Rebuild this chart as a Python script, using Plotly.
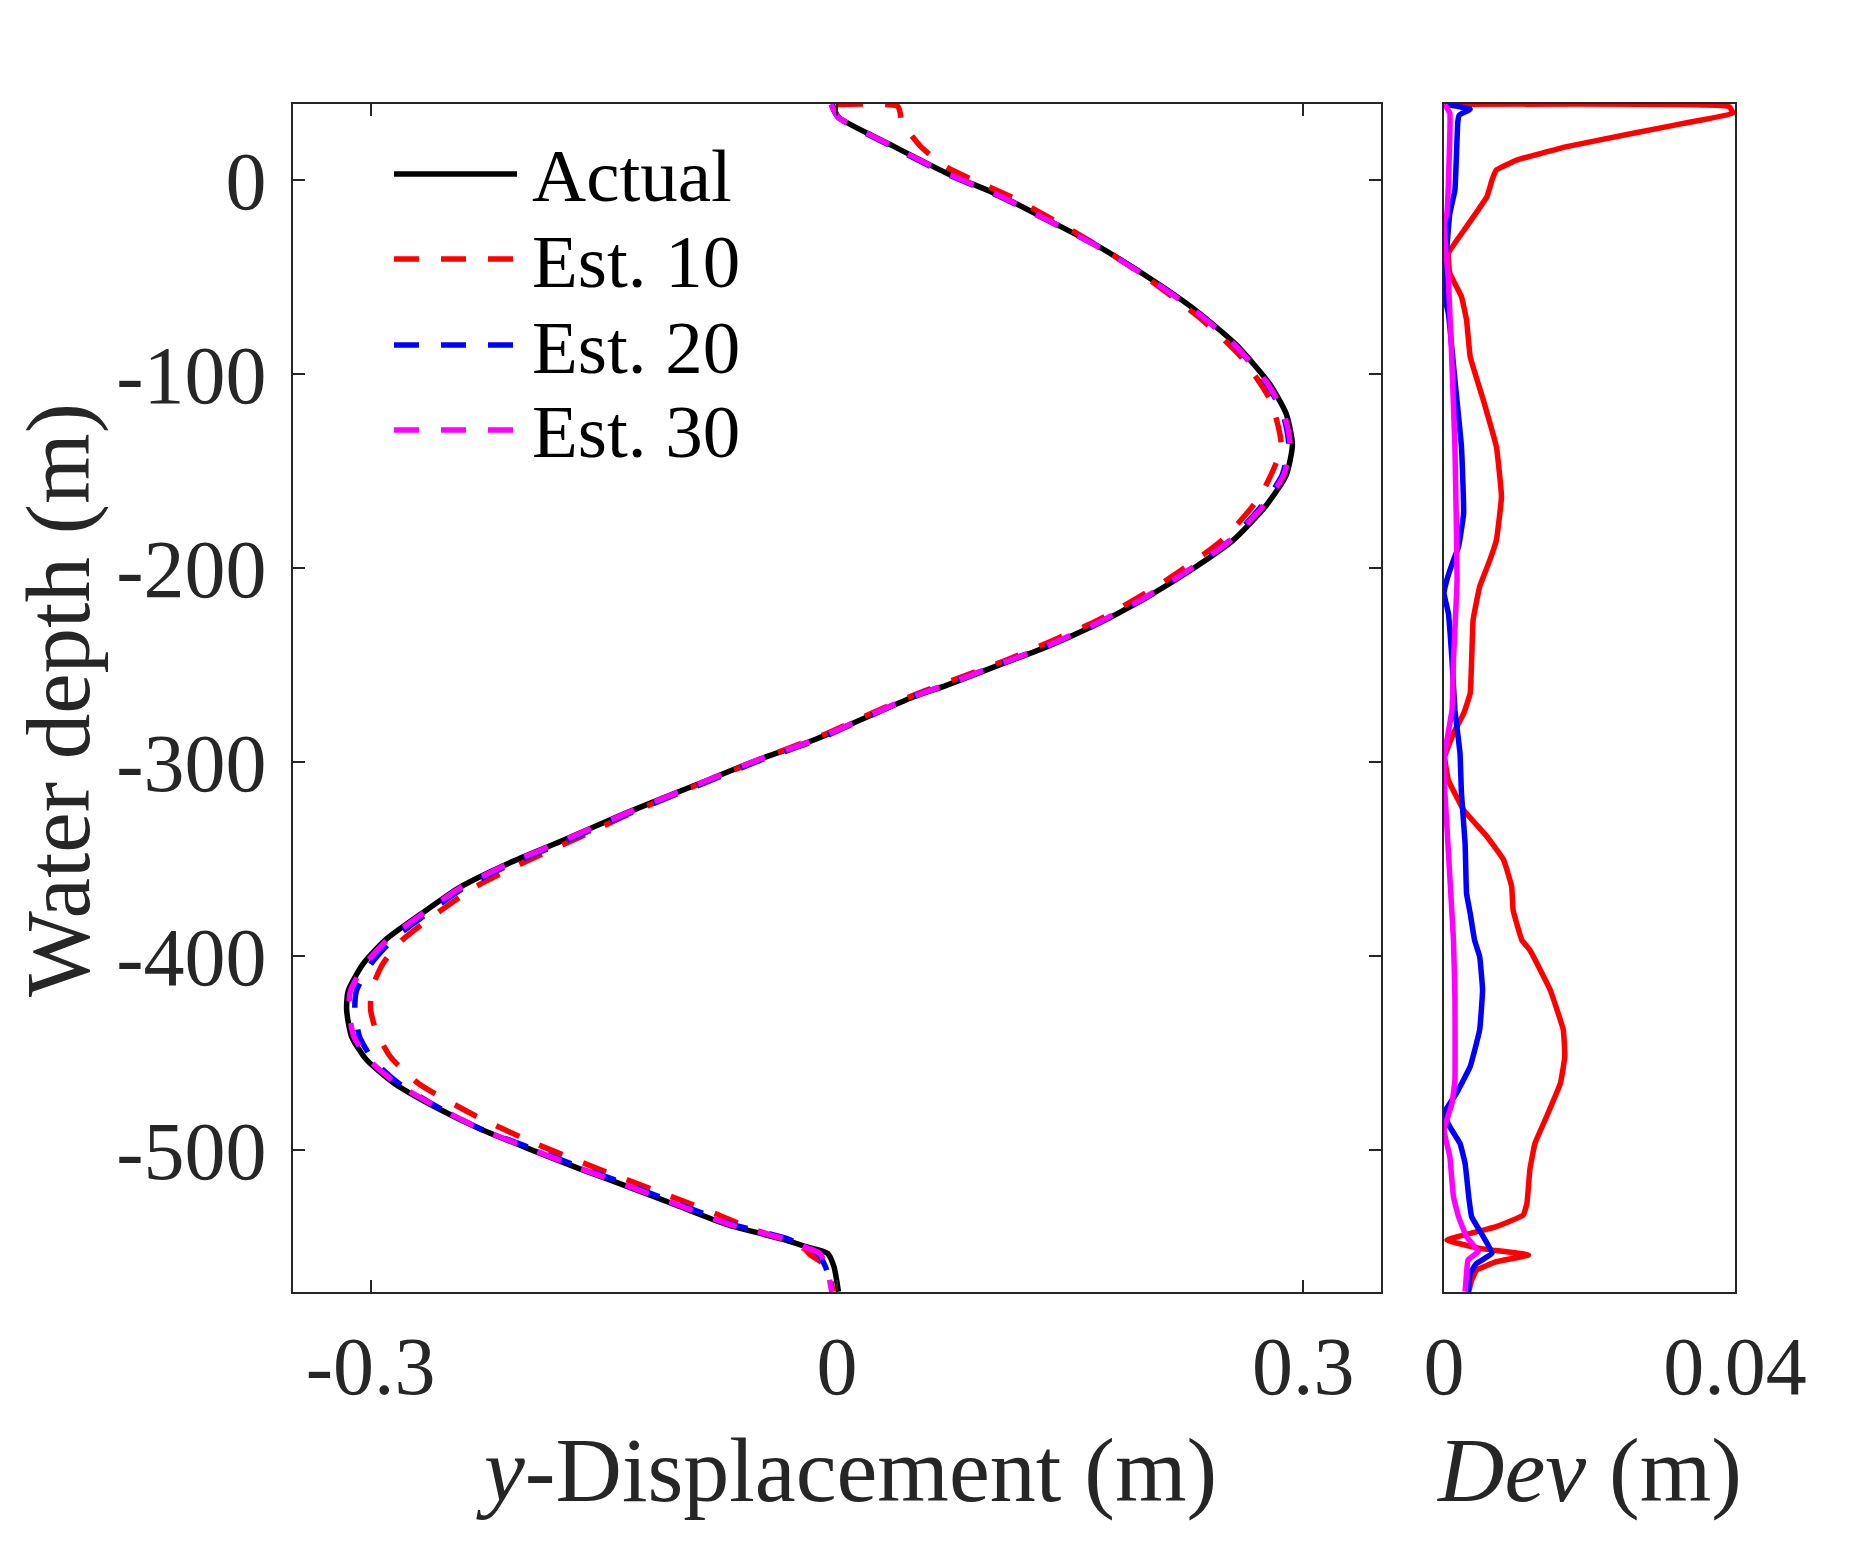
import plotly.graph_objects as go

# main panel: displacement profiles along the riser (depth in m, displacement in m)
depth_main = [39, 32.4, 17.6, 3.8, -8.1, -19.9, -33.7, -49.5, -67.3, -85.0,
              -104.7, -120.5, -136.3, -152.1, -167.9, -185.6, -201.4, -215.2, -229.0, -240.9,
              -250.7, -260.6, -266.5, -288.8, -298.6, -312.4, -326.2, -341.0, -351.9, -364.7,
              -378.5, -391.3, -404.2, -418.0, -427.8, -441.6, -453.5, -465.3, -477.2, -489.0,
              -498.9, -509.7, -518.6, -528.5, -538.3, -546.0, -549.8, -553.3, -560.0, -565.3,
              -573.0]
actual_x = [-0.003, 0.001, 0.036, 0.070, 0.105, 0.134, 0.167, 0.199, 0.231, 0.257,
            0.278, 0.289, 0.293, 0.289, 0.276, 0.255, 0.227, 0.199, 0.167, 0.134,
            0.102, 0.070, 0.049, -0.0154, -0.050, -0.0926, -0.1355, -0.178, -0.2105, -0.243,
            -0.268, -0.290, -0.305, -0.3145, -0.3155, -0.3123, -0.3027, -0.2855, -0.260, -0.2298,
            -0.1998, -0.1655, -0.1355, -0.1033, -0.0712, -0.035, -0.020, -0.006, -0.002, -0.0006,
            0.0009]
est20_x = [-0.0037, 0.0006, 0.0345, 0.0685, 0.1037, 0.1332, 0.1666, 0.1990, 0.2304, 0.2558,
           0.2762, 0.2869, 0.2906, 0.2864, 0.2733, 0.2529, 0.2262, 0.1990, 0.1666, 0.1329,
           0.1009, 0.0688, 0.0478, -0.0134, -0.0478, -0.0902, -0.1330, -0.1752, -0.2076, -0.2399,
           -0.2645, -0.2855, -0.3000, -0.3092, -0.3102, -0.3072, -0.2985, -0.2825, -0.2585, -0.2297,
           -0.1972, -0.1625, -0.1322, -0.0998, -0.0674, -0.0310, -0.0220, -0.0125, -0.0075, -0.0055,
           -0.0034]
est30_x = [-0.0037, 0.0008, 0.0355, 0.0695, 0.1045, 0.1336, 0.1665, 0.1984, 0.2302, 0.2560,
           0.2768, 0.2876, 0.2915, 0.2874, 0.2744, 0.2534, 0.2255, 0.1980, 0.1659, 0.1327,
           0.1008, 0.0688, 0.0478, -0.0150, -0.0500, -0.0922, -0.1350, -0.1775, -0.2099, -0.2422,
           -0.2671, -0.2888, -0.3036, -0.3130, -0.3140, -0.3108, -0.3012, -0.2840, -0.2588, -0.2298,
           -0.1990, -0.1645, -0.1342, -0.1018, -0.0692, -0.0330, -0.0215, -0.0110, -0.0070, -0.0052,
           -0.0034]

depth_est10 = [39, 38.0, 34.4, 29.2, 24.1, 17.2, 10.3, 5.2, 0, -8.6,
               -24, -37.8, -48.1, -60.1, -72.2, -91.1, -113.4, -137.5, -163.2, -185.6,
               -206.2, -226.8, -247.4, -264.6, -275, -285.2, -297.2, -309.3, -324.7, -338.4,
               -350.5, -364.2, -376.3, -391.8, -404, -417.5, -428, -438.1, -451.9, -465.6,
               -482.8, -496.6, -510.3, -527.5, -533.5, -539.5, -546.4, -550.7, -554.1, -557.6,
               -561.9, -567, -573]
est10_x = [0.0006, 0.039, 0.0407, 0.0415, 0.0467, 0.0539, 0.064, 0.0738, 0.0878, 0.1119,
           0.1469, 0.1759, 0.1954, 0.2157, 0.2351, 0.2599, 0.2787, 0.2858, 0.2720, 0.2478,
           0.2121, 0.1681, 0.1090, 0.0522, 0.0218, -0.0063, -0.0450, -0.0824, -0.1281, -0.1646,
           -0.1981, -0.2324, -0.2545, -0.2797, -0.2922, -0.2995, -0.3000, -0.2967, -0.2874, -0.2695,
           -0.2316, -0.1943, -0.1517, -0.0951, -0.0760, -0.0584, -0.0336, -0.0213, -0.0171, -0.0106,
           -0.0060, -0.0041, -0.0025]

# right panel: deviation of each estimate from the actual profile
dev10_depth = [39, 37.8, 34.4, 29.2, 24.1, 17.2, 10.3, 5.2, 0, -8.6,
               -24, -37.8, -48.1, -60.1, -72.2, -91.1, -113.4, -137.5, -163.2, -185.6,
               -195.9, -209.6, -226.8, -247.4, -264.6, -275, -285.2, -297.2, -309.3, -324.7,
               -338.4, -350.5, -364.2, -376.3, -391.8, -396.9, -417.5, -438.1, -451.9, -465.6,
               -482.8, -496.6, -510.3, -527.5, -533.5, -539.5, -546.4, -550.7, -554.1, -557.6,
               -561.9, -567, -573]
dev10 = [0.0001, 0.0392, 0.0397, 0.0329, 0.026, 0.0169, 0.010, 0.0072, 0.0066, 0.0059,
         0.0031, 0.0006, 0.0008, 0.0024, 0.0031, 0.0036, 0.0054, 0.0072, 0.0079, 0.0072,
         0.0063, 0.0049, 0.0040, 0.0038, 0.0036, 0.0027, 0.0013, 0.0001, 0.0006, 0.0027,
         0.0059, 0.0082, 0.0093, 0.0095, 0.0107, 0.0118, 0.0146, 0.0164, 0.0166, 0.0160,
         0.0141, 0.0125, 0.0118, 0.0114, 0.0109, 0.0072, 0.0004, 0.0049, 0.0116, 0.0072,
         0.0045, 0.0038, 0.0034]

dev20_depth = [39, 36.5, 33.5, 30, -5.2, -17.2, -58.4, -68.7, -103, -137.5,
               -171.8, -189, -195.9, -206, -213, -223.3, -247.4, -273.2, -295.5, -316.2,
               -341.9, -367.7, -378, -391.8, -400.3, -417.5, -438.1, -457, -470.8, -481.1,
               -488, -496.6, -506.9, -524.1, -534.4, -544.7, -553.3, -558.4, -563.6, -573]
dev20 = [0.0001, 0.0036, 0.0021, 0.0019, 0.0015, 0.0008, 0.0000, 0.0006, 0.0015, 0.0024,
         0.0027, 0.0020, 0.0013, 0.0004, 0.0000, 0.0006, 0.0011, 0.0015, 0.0022, 0.0024,
         0.0029, 0.0031, 0.0036, 0.0042, 0.0049, 0.0053, 0.0049, 0.0036, 0.0017, 0.0000,
         0.0008, 0.0022, 0.0029, 0.0034, 0.0038, 0.0054, 0.0066, 0.0045, 0.0036, 0.0033]

dev30_depth = [39, 34.4, 10, -17, -22.5, -51.5, -86, -137.5, -206, -247.4,
               -273.2, -295.5, -307.6, -333.3, -359.1, -391.8, -421, -463.9, -475.9, -489.7,
               -503.4, -524.1, -534.4, -544.7, -552.4, -556.7, -563.6, -573]
dev30 = [0.0001, 0.0008, 0.0007, 0.0004, 0.0000, 0.0006, 0.0010, 0.0015, 0.0018, 0.0013,
         0.0011, 0.0001, 0.0000, 0.0004, 0.0008, 0.0013, 0.0015, 0.0015, 0.0011, 0.0000,
         0.0008, 0.0013, 0.0020, 0.0031, 0.0047, 0.0033, 0.0031, 0.0029]

names = ["Actual", "Est. 10", "Est. 20", "Est. 30"]
colors = ["#000000", "#FF0000", "#0000FF", "#FF00FF"]

y_ticks = [-500, -400, -300, -200, -100, 0]
x_ticks = [-0.3, 0, 0.3]
dev_ticks = [0, 0.04]

W, H = 1875, 1563
OFF = 8  # page body margin, positions below are measured in window pixels
FONT = "Liberation Serif"
AXC = "#262626"
DASH = "25px,22px"
LW = 5.5


def px(x):
    return (x - OFF) / W


def py(y):
    return 1 - (y - OFF) / H


fig = go.Figure()

# main panel
fig.add_trace(go.Scatter(x=actual_x, y=depth_main, mode="lines", name=names[0],
                         line=dict(color=colors[0], width=LW, shape="spline", smoothing=0.6)))
fig.add_trace(go.Scatter(x=est10_x, y=depth_est10, mode="lines", name=names[1],
                         line=dict(color=colors[1], width=LW, dash=DASH, shape="spline", smoothing=0.6)))
fig.add_trace(go.Scatter(x=est20_x, y=depth_main, mode="lines", name=names[2],
                         line=dict(color=colors[2], width=LW, dash=DASH, shape="spline", smoothing=0.6)))
fig.add_trace(go.Scatter(x=est30_x, y=depth_main, mode="lines", name=names[3],
                         line=dict(color=colors[3], width=LW, dash=DASH, shape="spline", smoothing=0.6)))

# deviation panel
for d, v, c, n in [(dev10_depth, dev10, colors[1], names[1]),
                   (dev20_depth, dev20, colors[2], names[2]),
                   (dev30_depth, dev30, colors[3], names[3])]:
    fig.add_trace(go.Scatter(x=v, y=d, mode="lines", name=n, xaxis="x2", yaxis="y2",
                             line=dict(color=c, width=LW, shape="spline", smoothing=0.3)))

ax_common = dict(showline=True, linecolor=AXC, linewidth=2, ticks="inside", ticklen=12,
                 tickwidth=2, tickcolor=AXC, showgrid=False, zeroline=False, automargin=False,
                 tickfont=dict(family=FONT, size=82, color=AXC))

fig.update_layout(
    width=W, height=H,
    margin=dict(l=0, r=0, t=0, b=0, pad=0),
    paper_bgcolor="white", plot_bgcolor="white",
    showlegend=False,
    font=dict(family=FONT, size=82, color=AXC),
    xaxis=dict(domain=[px(293), px(1381)], range=[-0.35, 0.35], anchor="y",
               tickvals=x_ticks, ticktext=["-0.3", "0", "0.3"], mirror="ticks",
               ticklabelstandoff=2, **ax_common),
    yaxis=dict(domain=[py(1292), py(104)], range=[-573.2, 39.2], anchor="x",
               tickvals=y_ticks, ticktext=[str(t) for t in y_ticks], mirror="ticks",
               ticklabelstandoff=8, **ax_common),
    xaxis2=dict(domain=[px(1444), px(1735)], range=[0, 0.04], anchor="y2",
                tickvals=dev_ticks, ticktext=["0", "0.04"], mirror="ticks",
                ticklabelstandoff=2, **ax_common),
    yaxis2=dict(domain=[py(1292), py(104)], range=[-573.2, 39.2], anchor="x2",
                showline=True, linecolor=AXC, linewidth=2, mirror=True, ticks="",
                showticklabels=False, showgrid=False, zeroline=False, automargin=False),
)

# axis titles
fig.add_annotation(text="<i>y</i>-Displacement (m)", x=px(846), y=py(1470), xref="paper", yref="paper",
                   showarrow=False, xanchor="center", yanchor="middle",
                   font=dict(family=FONT, size=92, color=AXC))
fig.add_annotation(text="<i>Dev</i> (m)", x=px(1589), y=py(1470), xref="paper", yref="paper",
                   showarrow=False, xanchor="center", yanchor="middle",
                   font=dict(family=FONT, size=92, color=AXC))
fig.add_annotation(text="Water depth (m)", x=px(58), y=py(700), xref="paper", yref="paper",
                   showarrow=False, xanchor="center", yanchor="middle", textangle=-90,
                   font=dict(family=FONT, size=91, color=AXC))

# legend drawn by hand so the sample lines get the long MATLAB look
rows = [174, 259, 345, 430]
for i, (n, c) in enumerate(zip(names, colors)):
    fig.add_shape(type="line", xref="paper", yref="paper",
                  x0=px(394), x1=px(517), y0=py(rows[i]), y1=py(rows[i]),
                  line=dict(color=c, width=LW, dash="solid" if i == 0 else DASH))
    fig.add_annotation(text=n, x=px(530), y=py(rows[i] + 2), xref="paper", yref="paper",
                       showarrow=False, xanchor="left", yanchor="middle",
                       font=dict(family=FONT, size=75, color="#000000"))

fig.write_html("out.html")
